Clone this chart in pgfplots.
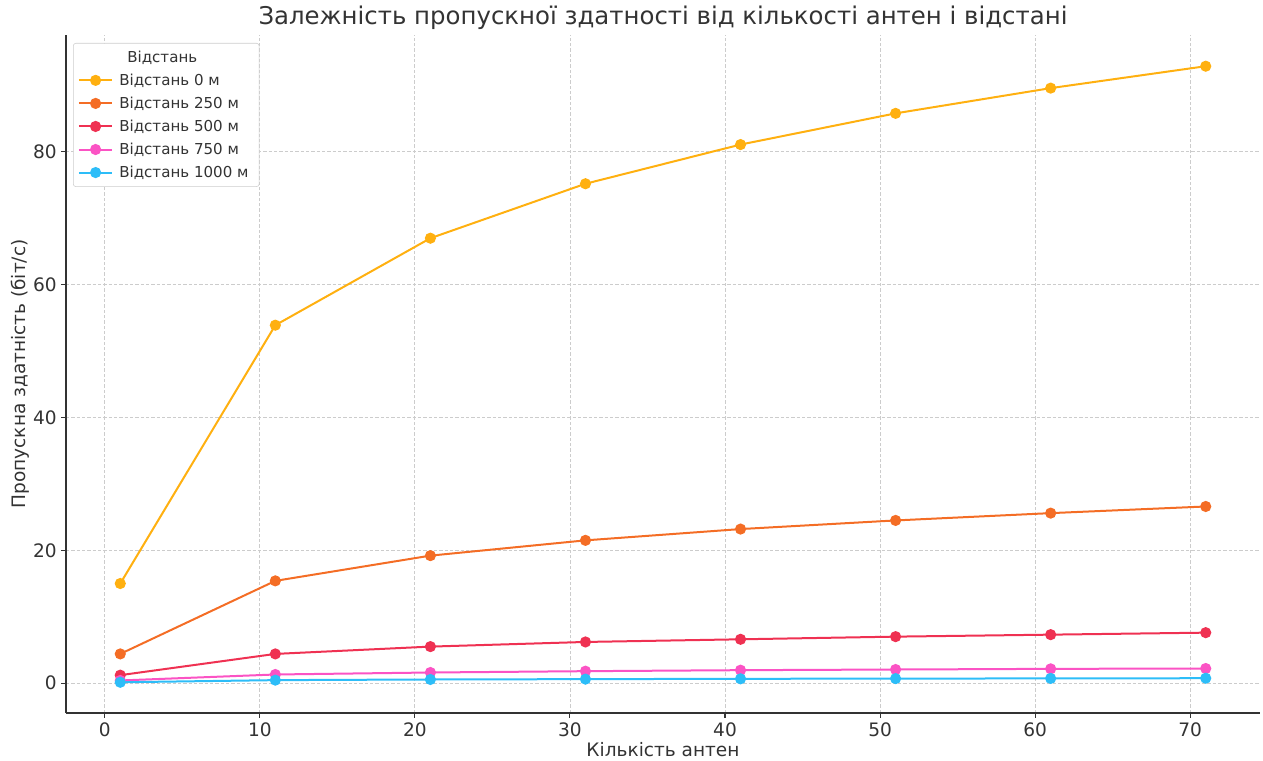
\documentclass[border=0pt]{standalone}
\usepackage{fontspec}
\setmainfont{DejaVu Sans}
\usepackage{pgfplots}
\pgfplotsset{compat=1.18}

\definecolor{cA}{HTML}{FFB010}
\definecolor{cB}{HTML}{F46D25}
\definecolor{cC}{HTML}{EF3152}
\definecolor{cD}{HTML}{FB53C4}
\definecolor{cE}{HTML}{2DBDF8}
\definecolor{txt}{HTML}{333333}
\definecolor{grd}{HTML}{CCCCCC}

\begin{document}
\begin{tikzpicture}
\begin{axis}[
    name=ax,
    scale only axis,
    width=895.5pt, height=508.5pt,
    xmin=-2.5, xmax=74.5,
    ymin=-4.5, ymax=97.6,
    axis x line*=bottom, axis y line*=left,
    axis line style={-, draw=txt, line width=0.9pt},
    xtick={0,10,...,70}, ytick={0,20,...,80},
    tick align=outside, major tick length=3.5pt,
    tick style={draw=txt, line width=0.8pt},
    grid=major,
    grid style={draw=grd, line width=0.6pt, dash pattern=on 2.5pt off 1.5pt},
    /pgf/number format/assume math mode=true,
    tick label style={font=\fontsize{13.9}{16}\selectfont, text=txt},
    label style={font=\fontsize{13.9}{16}\selectfont, text=txt},
    title style={font=\fontsize{18.3}{21}\selectfont, text=txt,
        at={(axis description cs:0.5,1.0251)}, anchor=center, yshift=-6pt},
    xlabel style={at={(axis description cs:0.5,-0.0546)}, anchor=center},
    ylabel style={at={(axis description cs:-0.0385,0.5)}, anchor=center},
    title={Залежність пропускної здатності від кількості антен і відстані},
    xlabel={Кількість антен},
    ylabel={Пропускна здатність (біт/с)},
    every axis plot/.append style={line width=1.5pt, mark=*, mark size=3.4pt, mark options={solid}},
    legend image code/.code={\draw[mark repeat=2,mark phase=2] plot coordinates {(0pt,0pt)(12.5pt,0pt)(25pt,0pt)};},
    legend cell align=left,
    legend style={at={(0,1)}, anchor=north west, xshift=5.25pt, yshift=-6pt,
        draw=grd, rounded corners=2pt, fill=white,
        font=\fontsize{11.3}{13}\selectfont, text=txt,
        row sep=3.2pt, inner sep=3.5pt,
        nodes={inner xsep=4.5pt}},
]
\addlegendimage{empty legend}
\addlegendentry{\hspace{6pt}Відстань}

\addplot[cA] coordinates {(1,15.0) (11,53.9) (21,67.0) (31,75.2) (41,81.1) (51,85.8) (61,89.6) (71,92.9)};
\addlegendentry{Відстань 0 м}
\addplot[cB] coordinates {(1,4.4) (11,15.4) (21,19.2) (31,21.5) (41,23.2) (51,24.5) (61,25.6) (71,26.6)};
\addlegendentry{Відстань 250 м}
\addplot[cC] coordinates {(1,1.2) (11,4.4) (21,5.5) (31,6.2) (41,6.6) (51,7.0) (61,7.3) (71,7.6)};
\addlegendentry{Відстань 500 м}
\addplot[cD] coordinates {(1,0.4) (11,1.3) (21,1.6) (31,1.8) (41,1.95) (51,2.05) (61,2.15) (71,2.2)};
\addlegendentry{Відстань 750 м}
\addplot[cE] coordinates {(1,0.13) (11,0.45) (21,0.55) (31,0.6) (41,0.65) (51,0.68) (61,0.71) (71,0.74)};
\addlegendentry{Відстань 1000 м}
\end{axis}
\pgfresetboundingbox
\path[use as bounding box] ([shift={(-49.5pt,-35.25pt)}]ax.south west) rectangle ([shift={(2.25pt,26.25pt)}]ax.north east);
\end{tikzpicture}
\end{document}
